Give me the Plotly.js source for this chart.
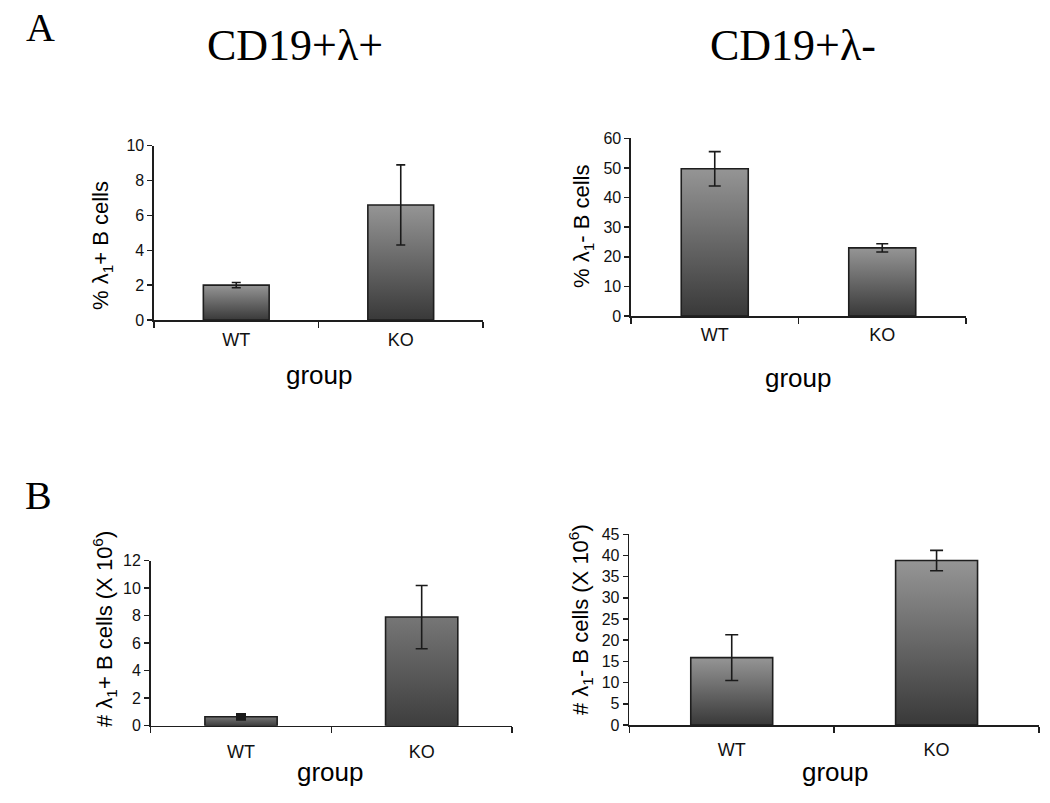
<!DOCTYPE html>
<html>
<head>
<meta charset="utf-8">
<script src="https://cdn.plot.ly/plotly-3.0.1.min.js"></script>
<style>
  html, body { margin: 0; padding: 0; background: #fff; }
  #chart { width: 1050px; height: 803px; }
</style>
</head>
<body>
<div id="chart"></div>
<script>
// ---- data ----
const groups = ['WT', 'KO'];

const pctLambdaPos = [2.0, 6.6];
const pctLambdaPosErr = [0.15, 2.3];

const pctLambdaNeg = [49.7, 23.0];
const pctLambdaNegErr = [5.8, 1.4];

const numLambdaPos = [0.65, 7.9];
const numLambdaPosErr = [0.1, 2.3];

const numLambdaNeg = [15.9, 38.8];
const numLambdaNegErr = [5.4, 2.4];

const panelTitles = ['CD19+λ+', 'CD19+λ-'];
const panelLetters = ['A', 'B'];

// ---- styling helpers ----
const W = 1050, H = 803;
const px = v => v / W;
const py = v => 1 - v / H;

const barLine = { color: '#1e1e1e', width: 1.6 };

function barTrace(x, y, err, xa, ya, errOpts) {
  return {
    type: 'bar',
    x: x, y: y,
    xaxis: xa, yaxis: ya,
    width: 0.4,
    marker: { color: '#6a6a6a', line: barLine },
    error_y: Object.assign({ type: 'data', array: err, visible: true, color: '#1a1a1a', thickness: 1.6, width: 5 }, errOpts || {}),
    showlegend: false,
    hoverinfo: 'skip'
  };
}

const traces = [
  barTrace(groups, pctLambdaPos, pctLambdaPosErr, 'x', 'y', { width: 4.5 }),
  barTrace(groups, pctLambdaNeg, pctLambdaNegErr, 'x2', 'y2', { width: 6 }),
  barTrace([groups[0]], [numLambdaPos[0]], [numLambdaPosErr[0]], 'x3', 'y3', { thickness: 5, width: 5 }),
  barTrace([groups[1]], [numLambdaPos[1]], [numLambdaPosErr[1]], 'x3', 'y3', { width: 6 }),
  barTrace(groups, numLambdaNeg, numLambdaNegErr, 'x4', 'y4', { width: 6.5 })
];

const gradientFor = ['gradMain', 'gradMain', 'gradDark', 'gradDark', 'gradMain'];

const serif = 'Liberation Serif, Times New Roman, serif';
const sans = 'Liberation Sans, Arial, sans-serif';

function xAxis(domain, standoff) {
  return {
    domain: domain,
    type: 'category',
    categoryorder: 'array',
    categoryarray: groups,
    range: [-0.5, 1.5],
    tickson: 'boundaries',
    ticks: 'outside',
    ticklen: 6,
    tickwidth: 1.5,
    tickcolor: '#1e1e1e',
    showline: true,
    linecolor: '#1e1e1e',
    linewidth: 1.6,
    showgrid: false,
    zeroline: false,
    ticklabelstandoff: standoff,
    tickfont: { family: sans, size: 18, color: '#111' },
    fixedrange: true
  };
}

function yAxis(domain, max, dtick, anchor) {
  return {
    domain: domain,
    anchor: anchor,
    range: [0, max],
    tick0: 0,
    dtick: dtick,
    ticks: 'outside',
    ticklen: 5,
    tickwidth: 1.5,
    tickcolor: '#1e1e1e',
    showline: true,
    linecolor: '#1e1e1e',
    linewidth: 1.6,
    showgrid: false,
    zeroline: false,
    tickfont: { family: sans, size: 16, color: '#111' },
    fixedrange: true
  };
}

function ann(text, x, y, size, family, angle) {
  return {
    text: text, x: px(x), y: py(y), xref: 'paper', yref: 'paper',
    xanchor: 'center', yanchor: 'middle', showarrow: false,
    textangle: angle || 0,
    font: { family: family, size: size, color: '#000' }
  };
}

const layout = {
  width: W, height: H,
  margin: { l: 0, r: 0, t: 0, b: 0 },
  paper_bgcolor: '#fff',
  plot_bgcolor: 'rgba(0,0,0,0)',
  barmode: 'overlay',
  showlegend: false,
  xaxis:  Object.assign(xAxis([px(154), px(483)], 3), { anchor: 'y' }),
  yaxis:  yAxis([py(320), py(145.7)], 10, 2, 'x'),
  xaxis2: Object.assign(xAxis([px(631), px(966)], 2), { anchor: 'y2' }),
  yaxis2: yAxis([py(316), py(138.3)], 60, 10, 'x2'),
  xaxis3: Object.assign(xAxis([px(150.7), px(512)], 9), { anchor: 'y3' }),
  yaxis3: yAxis([py(725.7), py(560.7)], 12, 2, 'x3'),
  xaxis4: Object.assign(xAxis([px(629.3), px(1039)], 8), { anchor: 'y4' }),
  yaxis4: yAxis([py(725), py(534.3)], 45, 5, 'x4'),
  annotations: [
    ann(panelLetters[0], 40, 27, 40, serif),
    ann(panelLetters[1], 38, 495, 40, serif),
    ann(panelTitles[0], 295, 45, 44, serif),
    ann(panelTitles[1], 793, 45, 44, serif),
    ann('% λ<sub>1</sub>+ B cells', 102, 246, 22, sans, -90),
    ann('% λ<sub>1</sub>- B cells', 583, 226, 22, sans, -90),
    ann('# λ<sub>1</sub>+ B cells (X 10<sup>6</sup>)', 104, 629, 22, sans, -90),
    ann('# λ<sub>1</sub>- B cells (X 10<sup>6</sup>)', 580, 620, 22, sans, -90),
    ann('group', 319, 375, 26, sans),
    ann('group', 798, 378, 26, sans),
    ann('group', 330, 772, 26, sans),
    ann('group', 835, 772, 26, sans)
  ]
};

function addGradients(gd) {
  const svg = gd.querySelector('svg.main-svg');
  const NS = 'http://www.w3.org/2000/svg';
  const defs = document.createElementNS(NS, 'defs');
  const specs = {
    gradMain: ['#959595', '#393939'],
    gradDark: ['#767676', '#3e3e3e']
  };
  Object.keys(specs).forEach(id => {
    const g = document.createElementNS(NS, 'linearGradient');
    g.setAttribute('id', id);
    g.setAttribute('x1', '0'); g.setAttribute('y1', '0');
    g.setAttribute('x2', '0'); g.setAttribute('y2', '1');
    [[0, specs[id][0]], [1, specs[id][1]]].forEach(([o, c]) => {
      const s = document.createElementNS(NS, 'stop');
      s.setAttribute('offset', o);
      s.setAttribute('stop-color', c);
      g.appendChild(s);
    });
    defs.appendChild(g);
  });
  svg.insertBefore(defs, svg.firstChild);
  gd.querySelectorAll('g.trace.bars').forEach(tg => {
    const cd = tg.__data__;
    const idx = cd && cd[0] && cd[0].trace ? cd[0].trace.index : 0;
    const gid = gradientFor[idx] || 'gradMain';
    tg.querySelectorAll('g.point path').forEach(p => {
      p.style.fill = 'url(#' + gid + ')';
    });
  });
}

Plotly.newPlot('chart', traces, layout, { staticPlot: true, displayModeBar: false })
  .then(addGradients);
</script>
</body>
</html>
